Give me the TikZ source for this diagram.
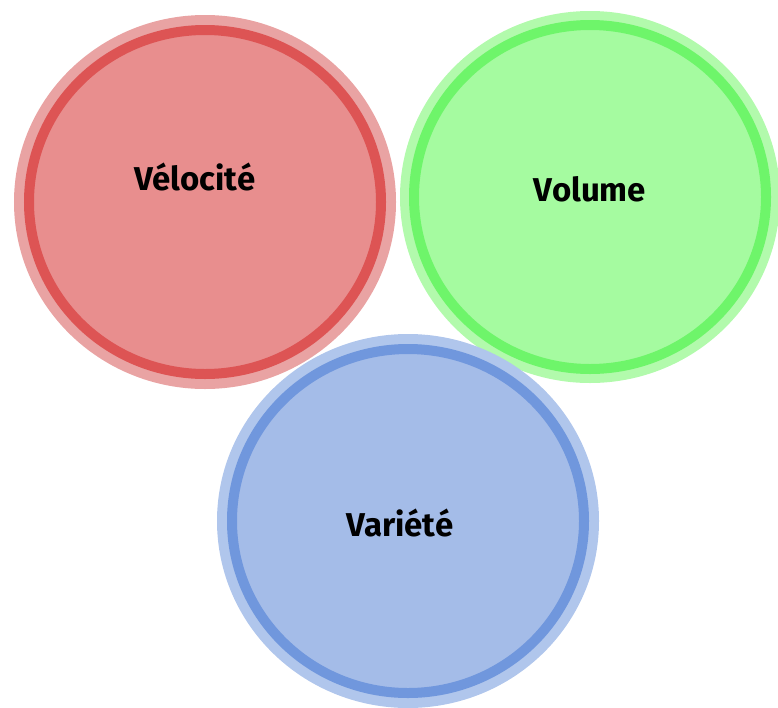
\documentclass[tikz,border=0pt]{standalone}
\usepackage{fontspec}
\newfontfamily\tagfont{Fira Sans}
\usepackage{tikz}
\usetikzlibrary{shapes.geometric}

\definecolor{redfill}{RGB}{232,142,142}
\definecolor{redring}{RGB}{221,84,84}
\definecolor{redband}{RGB}{233,163,163}
\definecolor{greenfill}{RGB}{165,251,160}
\definecolor{greenring}{RGB}{110,245,106}
\definecolor{greenband}{RGB}{178,250,172}
\definecolor{bluefill}{RGB}{164,188,232}
\definecolor{bluering}{RGB}{112,151,221}
\definecolor{blueband}{RGB}{176,198,236}

\begin{document}
\begin{tikzpicture}[x=1pt,y=-1pt,
                    v node/.style={ellipse,minimum width=352pt,minimum height=344pt,
                                   inner sep=0pt,line width=10pt},
                    tag/.style={font=\tagfont\bfseries\fontsize{33}{36}\selectfont,text=black}]
  \useasboundingbox (0,0) rectangle (778,707);

  \node[v node,fill=redfill,draw=redring,
        preaction={draw=redband,line width=30pt}] (velocite) at (205,202) {};
  \node[v node,fill=greenfill,draw=greenring,
        preaction={draw=greenband,line width=28pt}] (volume) at (590,197) {};
  \node[v node,fill=bluefill,draw=bluering,
        preaction={draw=blueband,line width=30pt}] (variete) at (408,521) {};

  \node[tag] (t1) at (195,177) {Vélocité};
  \node[tag] (t2) at (590,189) {Volume};
  \node[tag] (t3) at (400,523) {Variété};
\end{tikzpicture}
\end{document}
